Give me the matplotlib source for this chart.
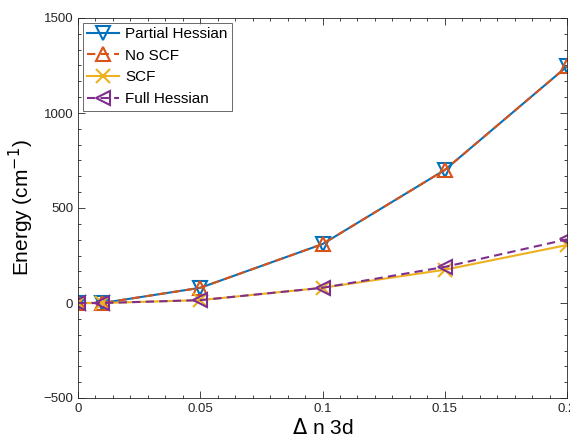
import matplotlib
matplotlib.use("Agg")
import matplotlib.pyplot as plt
from matplotlib.ticker import AutoMinorLocator

plt.rcParams['font.family'] = ['Liberation Sans', 'DejaVu Sans']

dn = [0, 0.01, 0.05, 0.1, 0.15, 0.2]
partial_hessian = [0, 0, 80, 310, 700, 1245]
no_scf = [0, 0, 80, 310, 700, 1245]
scf = [0, 0, 15, 80, 175, 305]
full_hessian = [0, 0, 15, 80, 190, 335]

fig = plt.figure(figsize=(5.7, 4.41), dpi=100)
ax = fig.add_axes([78 / 570, 43 / 441, 489 / 570, 380 / 441])

ax.plot(dn, partial_hessian, color='#0072BD', linestyle='-', marker='v', markersize=9.5,
        markerfacecolor='none', markeredgewidth=1.5, linewidth=1.5, label='Partial Hessian')
ax.plot(dn, no_scf, color='#D95319', linestyle=(0, (4, 2.5)), marker='^', markersize=9.5,
        markerfacecolor='none', markeredgewidth=1.5, linewidth=1.5, label='No SCF')
ax.plot(dn, scf, color='#EDB120', linestyle='-', marker='x', markersize=9.5,
        markeredgewidth=1.5, linewidth=1.5, label='SCF')
ax.plot(dn, full_hessian, color='#7E2F8E', linestyle=(0, (4, 2.5)), marker='<', markersize=9.5,
        markerfacecolor='none', markeredgewidth=1.5, linewidth=1.5, label='Full Hessian')

ax.set_xlim(0, 0.2)
ax.set_ylim(-500, 1500)
ax.set_xticks([0, 0.05, 0.1, 0.15, 0.2])
ax.set_xticklabels(['0', '0.05', '0.1', '0.15', '0.2'])
ax.set_yticks([-500, 0, 500, 1000, 1500])
ax.xaxis.set_minor_locator(AutoMinorLocator(7))
ax.yaxis.set_minor_locator(AutoMinorLocator(6))
ax.tick_params(which='both', direction='in', top=True, right=True, labelsize=9.5,
               width=0.6, colors='#262626')
ax.tick_params(which='major', length=5)
ax.tick_params(which='minor', length=2.5)
for s in ax.spines.values():
    s.set_linewidth(0.6)
    s.set_color('#262626')

ax.set_xlabel(r'$\Delta$ n 3d', fontsize=15, labelpad=2)
ax.set_ylabel(r'Energy (cm$^{-1}$)', fontsize=15, labelpad=5)

leg = ax.legend(loc='upper left', fontsize=11, frameon=True, fancybox=False,
                edgecolor='#262626', handlelength=2.1, handletextpad=0.4,
                borderaxespad=0.3, labelspacing=0.5, borderpad=0.3)
leg.get_frame().set_linewidth(0.6)

fig.savefig('out.png', dpi=100)
